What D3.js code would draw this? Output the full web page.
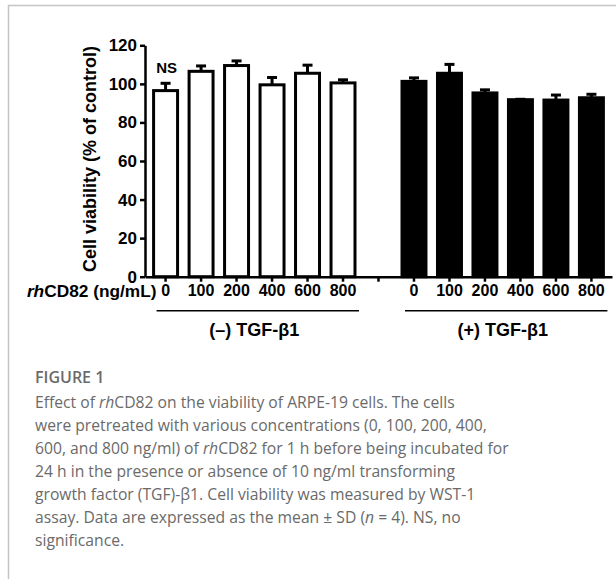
<!DOCTYPE html>
<html>
<head>
<meta charset="utf-8">
<script src="https://cdn.jsdelivr.net/npm/d3@7"></script>
<style>
  html, body { margin: 0; padding: 0; background: #fff; }
  svg { display: block; }
  .ax text { font-family: "Liberation Sans", Arial, sans-serif; font-weight: bold; font-size: 16px; fill: #000; }
  .ax.yax text { font-size: 17px; }
  .ax path, .ax line { stroke: #000; stroke-width: 2.5; }
  .cap { font-family: "Open Sans", sans-serif; fill: #6a6a6a; }
</style>
</head>
<body>
<svg id="chart" width="616" height="579"></svg>
<script>
// cell viability (% of control) per rhCD82 dose
const doses     = ["0", "100", "200", "400", "600", "800"];
const meanMinus = [96.5, 106.5, 109.5, 99.5, 105.5, 100.5];   // (-) TGF-b1, white bars
const sdMinus   = [3.8, 2.8, 2.4, 3.8, 4.2, 1.6];
const meanPlus  = [101.3, 105.5, 95.3, 91.8, 91.6, 92.8];     // (+) TGF-b1, black bars
const sdPlus    = [1.8, 4.6, 1.6, 0.2, 2.6, 1.8];
const yTicks    = [0, 20, 40, 60, 80, 100, 120];
const groups    = ["(\u2013) TGF-\u03b21", "(+) TGF-\u03b21"];

const caption = [
  ["Effect of ", ["rh", true], "CD82 on the viability of ARPE-19 cells. The cells"],
  ["were pretreated with various concentrations (0, 100, 200, 400,"],
  ["600, and 800 ng/ml) of ", ["rh", true], "CD82 for 1 h before being incubated for"],
  ["24 h in the presence or absence of 10 ng/ml transforming"],
  ["growth factor (TGF)-\u03b21. Cell viability was measured by WST-1"],
  ["assay. Data are expressed as the mean \u00b1 SD (", ["n", true], " = 4). NS, no"],
  ["significance."]
];

const svg = d3.select("#chart");

// thin grey frame round the figure box
svg.append("path")
    .attr("d", "M616,5.5H8.5V579")
    .attr("fill", "none").attr("stroke", "#c4c4c4").attr("stroke-width", 1.5);

// one slot per bar, plus an empty slot between the two groups
const bars = [
  ...doses.map((d, i) => ({ key: "m" + d, dose: d, mean: meanMinus[i], sd: sdMinus[i], g: 0 })),
  { key: "gap", dose: "", mean: null },
  ...doses.map((d, i) => ({ key: "p" + d, dose: d, mean: meanPlus[i], sd: sdPlus[i], g: 1 }))
];

const x = d3.scaleBand().domain(bars.map(d => d.key))
    .range([145, 612]).paddingInner(0.24).paddingOuter(0.2);
const y = d3.scaleLinear().domain([0, 120]).range([276.7, 45.3]);

const cx = k => x(k) + x.bandwidth() / 2;

// y axis
svg.append("g").attr("class", "ax yax")
    .attr("transform", "translate(145,0)")
    .call(d3.axisLeft(y).tickValues(yTicks).tickSize(5).tickSizeOuter(0).tickPadding(3));

// bars (white outlined / solid black)
const real = bars.filter(d => d.mean != null);
const bw = x.bandwidth() - 3;
svg.append("g").selectAll("rect").data(real).join("rect")
    .attr("x", d => cx(d.key) - bw / 2)
    .attr("width", bw)
    .attr("y", d => y(d.mean))
    .attr("height", d => y(0) - y(d.mean))
    .attr("fill", d => d.g ? "#000" : "#fff")
    .attr("stroke", "#000").attr("stroke-width", 3);

// upper error bars only
const err = svg.append("g").attr("stroke", "#000").attr("stroke-width", 3);
err.selectAll("line.v").data(real).join("line").attr("class", "v")
    .attr("x1", d => cx(d.key)).attr("x2", d => cx(d.key))
    .attr("y1", d => y(d.mean)).attr("y2", d => y(d.mean + d.sd));
err.selectAll("line.h").data(real).join("line").attr("class", "h")
    .attr("x1", d => cx(d.key) - 5).attr("x2", d => cx(d.key) + 5)
    .attr("y1", d => y(d.mean + d.sd)).attr("y2", d => y(d.mean + d.sd));

// x axis with dose labels
svg.append("g").attr("class", "ax")
    .attr("transform", `translate(0,${y(0)})`)
    .call(d3.axisBottom(x).tickSize(5).tickSizeOuter(0).tickPadding(3)
      .tickFormat(k => bars.find(b => b.key === k).dose));

// axis title for the dose row
const lab = svg.append("text")
    .attr("x", 156.5).attr("y", 297).attr("text-anchor", "end")
    .attr("font-family", "Liberation Sans, Arial, sans-serif")
    .attr("font-weight", "bold").attr("font-size", 17.3);
lab.append("tspan").attr("font-style", "italic").text("rh");
lab.append("tspan").text("CD82 (ng/mL)");

// group brackets and labels
groups.forEach((name, g) => {
  const ks = real.filter(d => d.g === g).map(d => d.key);
  const a = cx(ks[0]), b = cx(ks[ks.length - 1]);
  svg.append("line")
      .attr("x1", a - 9).attr("x2", b + 16)
      .attr("y1", 310.7).attr("y2", 310.7)
      .attr("stroke", "#000").attr("stroke-width", 1.5);
  svg.append("text")
      .attr("x", (a + b) / 2).attr("y", 336).attr("text-anchor", "middle")
      .attr("font-family", "Liberation Sans, Arial, sans-serif")
      .attr("font-weight", "bold").attr("font-size", 18)
      .text(name);
});

// NS over the first bar
svg.append("text")
    .attr("x", cx(real[0].key) + 1).attr("y", y(meanMinus[0] + sdMinus[0]) - 10)
    .attr("text-anchor", "middle")
    .attr("font-family", "Liberation Sans, Arial, sans-serif")
    .attr("font-weight", "bold").attr("font-size", 15)
    .text("NS");

// y axis title
svg.append("text")
    .attr("transform", "translate(95.5,159) rotate(-90)")
    .attr("text-anchor", "middle")
    .attr("font-family", "Liberation Sans, Arial, sans-serif")
    .attr("font-weight", "bold").attr("font-size", 18)
    .text("Cell viability (% of control)");

// caption
svg.append("text").attr("class", "cap")
    .attr("x", 35).attr("y", 383.3)
    .attr("font-size", 16).attr("font-weight", 600).attr("fill", "#555")
    .text("FIGURE 1");

caption.forEach((parts, i) => {
  const t = svg.append("text").attr("class", "cap")
      .attr("x", 35).attr("y", 407.7 + i * 23.07)
      .attr("font-size", 15.7);
  parts.forEach(p => {
    if (Array.isArray(p)) t.append("tspan").attr("font-style", "italic").text(p[0]);
    else t.append("tspan").text(p);
  });
});
</script>
</body>
</html>
